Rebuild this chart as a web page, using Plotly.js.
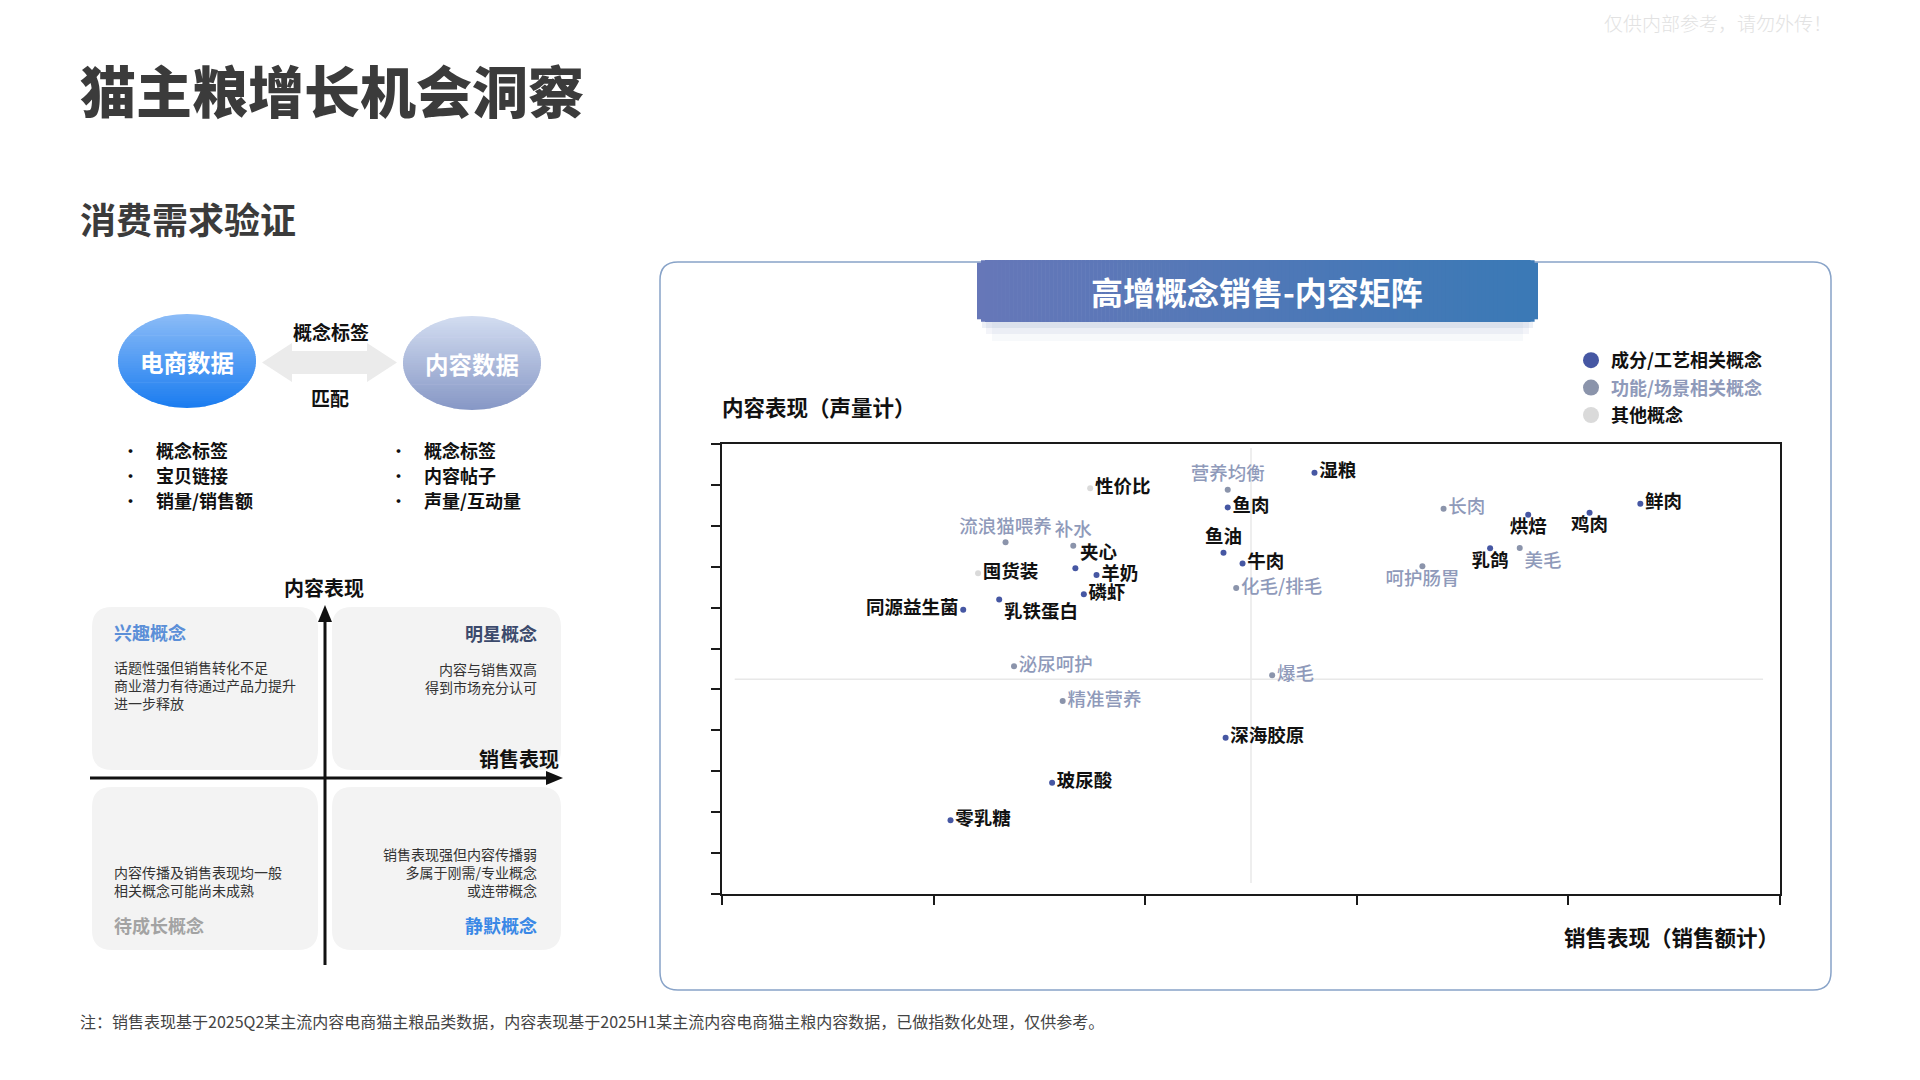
<!DOCTYPE html>
<html>
<head>
<meta charset="utf-8">
<script src="https://cdn.plot.ly/plotly-3.0.1.min.js"></script>
<style>
  html, body { margin: 0; padding: 0; background: #fff; }
  #myDiv { width: 1920px; height: 1080px; }
</style>
</head>
<body>
<div id="myDiv"></div>
<script>
// ---- data (sales index on x, content index on y) ----
var ingrNames   = ['鱼肉', '湿粮', '鱼油', '牛肉', '夹心', '羊奶', '磷虾', '乳铁蛋白', '同源益生菌', '深海胶原', '玻尿酸', '零乳糖', '乳鸽', '烘焙', '鸡肉', '鲜肉'];
var ingrSales   = [2.39, 2.80, 2.37, 2.46, 1.67, 1.77, 1.71, 1.31, 1.14, 2.38, 1.56, 1.08, 3.63, 3.81, 4.10, 4.34];
var ingrContent = [9.45, 10.30, 8.34, 8.08, 7.96, 7.80, 7.33, 7.20, 6.95, 3.82, 2.72, 1.80, 8.45, 9.27, 9.32, 9.54];
var ingrPos     = ['middle right', 'middle right', 'top center', 'middle right', 'top right', 'middle right', 'middle right', 'bottom right', 'middle left', 'middle right', 'middle right', 'middle right', 'bottom center', 'bottom center', 'bottom center', 'middle right'];

var funcNames   = ['营养均衡', '流浪猫喂养', '补水', '化毛/排毛', '泌尿呵护', '爆毛', '精准营养', '长肉', '美毛', '呵护肠胃'];
var funcSales   = [2.39, 1.34, 1.66, 2.43, 1.38, 2.60, 1.61, 3.41, 3.77, 3.31];
var funcContent = [9.88, 8.60, 8.51, 7.48, 5.57, 5.35, 4.72, 9.42, 8.46, 8.01];
var funcPos     = ['top center', 'top center', 'top center', 'middle right', 'middle right', 'middle right', 'middle right', 'middle right', 'bottom right', 'bottom center'];

var otherNames   = ['性价比', '囤货装'];
var otherSales   = [1.74, 1.21];
var otherContent = [9.92, 7.84];
var otherPos     = ['middle right', 'middle right'];

var midSales = 2.5;
var midContent = 5.25;

var legendNames = ['成分/工艺相关概念', '功能/场景相关概念', '其他概念'];

// ---- helpers: page pixels -> paper coords ----
function X(p) { return p / 1920; }
function Y(p) { return 1 - p / 1080; }

function hex(c) { return [parseInt(c.substr(1, 2), 16), parseInt(c.substr(3, 2), 16), parseInt(c.substr(5, 2), 16)]; }
function mix(a, b, t) {
  var A = hex(a), B = hex(b);
  return 'rgb(' + [0, 1, 2].map(function (i) { return Math.round(A[i] + (B[i] - A[i]) * t); }).join(',') + ')';
}

function rrPath(x0, y0, x1, y1, r) {
  return 'M' + X(x0 + r) + ',' + Y(y0) + ' L' + X(x1 - r) + ',' + Y(y0) +
    ' Q' + X(x1) + ',' + Y(y0) + ' ' + X(x1) + ',' + Y(y0 + r) +
    ' L' + X(x1) + ',' + Y(y1 - r) +
    ' Q' + X(x1) + ',' + Y(y1) + ' ' + X(x1 - r) + ',' + Y(y1) +
    ' L' + X(x0 + r) + ',' + Y(y1) +
    ' Q' + X(x0) + ',' + Y(y1) + ' ' + X(x0) + ',' + Y(y1 - r) +
    ' L' + X(x0) + ',' + Y(y0 + r) +
    ' Q' + X(x0) + ',' + Y(y0) + ' ' + X(x0 + r) + ',' + Y(y0) + ' Z';
}

var shapes = [];

// gradient ellipse made of horizontal bands
function gradEllipse(cx, cy, rx, ry, top, bottom) {
  var n = 40, h = 2 * ry / n;
  for (var i = 0; i < n; i++) {
    var ya = cy - ry + i * h, yb = Math.min(ya + h + 0.7, cy + ry);
    var left = [], right = [];
    for (var k = 0; k <= 6; k++) {
      var y = ya + (yb - ya) * k / 6;
      var q = 1 - Math.pow((y - cy) / ry, 2);
      var dx = rx * Math.sqrt(Math.max(q, 0));
      left.push([cx - dx, y]);
      right.unshift([cx + dx, y]);
    }
    var pts = left.concat(right);
    var d = 'M' + pts.map(function (p) { return X(p[0]) + ',' + Y(p[1]); }).join(' L') + ' Z';
    shapes.push({type: 'path', xref: 'paper', yref: 'paper', path: d, fillcolor: mix(top, bottom, (i + 0.5) / n), line: {width: 0}, layer: 'below'});
  }
}

// ---- left diagram ----
gradEllipse(187, 361, 69, 47, '#8cbcf7', '#1a7cf0');
gradEllipse(472, 363, 69, 47, '#d3ddf1', '#8697c5');

var arrowPts = [[262, 362.5], [292, 343], [292, 351], [367, 351], [367, 343], [397, 362.5], [367, 382], [367, 374], [292, 374], [292, 382]];
shapes.push({type: 'path', xref: 'paper', yref: 'paper', layer: 'below',
  path: 'M' + arrowPts.map(function (p) { return X(p[0]) + ',' + Y(p[1]); }).join(' L') + ' Z',
  fillcolor: '#ebebeb', line: {width: 0}});

[[92, 607, 318, 770], [332, 607, 561, 770], [92, 787, 318, 950], [332, 787, 561, 950]].forEach(function (b) {
  shapes.push({type: 'path', xref: 'paper', yref: 'paper', layer: 'below', path: rrPath(b[0], b[1], b[2], b[3], 20), fillcolor: '#f3f3f3', line: {width: 0}});
});
shapes.push({type: 'line', xref: 'paper', yref: 'paper', x0: X(325), x1: X(325), y0: Y(965), y1: Y(618), line: {color: '#111', width: 3}});
shapes.push({type: 'line', xref: 'paper', yref: 'paper', x0: X(90), x1: X(550), y0: Y(778), y1: Y(778), line: {color: '#111', width: 3}});
shapes.push({type: 'path', xref: 'paper', yref: 'paper', fillcolor: '#111', line: {width: 0},
  path: 'M' + X(325) + ',' + Y(605) + ' L' + X(318) + ',' + Y(622) + ' L' + X(332) + ',' + Y(622) + ' Z'});
shapes.push({type: 'path', xref: 'paper', yref: 'paper', fillcolor: '#111', line: {width: 0},
  path: 'M' + X(563) + ',' + Y(778) + ' L' + X(546) + ',' + Y(771) + ' L' + X(546) + ',' + Y(785) + ' Z'});

// ---- chart frame and banner ----
shapes.push({type: 'path', xref: 'paper', yref: 'paper', layer: 'below', path: rrPath(660, 262, 1831, 990, 18), fillcolor: 'rgba(0,0,0,0)', line: {color: '#88a3c8', width: 1.5}});
[[982, 1533, 328, 0.10], [986, 1529, 334, 0.07], [992, 1523, 341, 0.045]].forEach(function (s) {
  shapes.push({type: 'rect', xref: 'paper', yref: 'paper', x0: X(s[0]), x1: X(s[1]), y0: Y(316), y1: Y(s[2]), fillcolor: 'rgba(80,105,170,' + s[3] + ')', line: {width: 0}});
});
(function () {
  var bx0 = 977, bx1 = 1538, by0 = 260, by1 = 322, r = 8, n = 140, w = (bx1 - bx0) / n;
  for (var i = 0; i < n; i++) {
    var xa = bx0 + i * w, xm = xa + w / 2, inset = 0, d = 0;
    if (xm < bx0 + r) d = bx0 + r - xm;
    if (xm > bx1 - r) d = xm - (bx1 - r);
    if (d > 0) inset = r - Math.sqrt(Math.max(r * r - d * d, 0));
    shapes.push({type: 'rect', xref: 'paper', yref: 'paper', x0: X(xa), x1: X(Math.min(xa + w + 0.6, bx1)), y0: Y(by0 + inset), y1: Y(by1 - inset),
      fillcolor: mix('#6677b8', '#3a79b6', i / (n - 1)), line: {width: 0}});
  }
})();

// quadrant reference lines inside the matrix
shapes.push({type: 'line', xref: 'x', yref: 'y', x0: 0.06, x1: 4.92, y0: midContent, y1: midContent, line: {color: '#e8e8e8', width: 1.5}, layer: 'below'});
shapes.push({type: 'line', xref: 'x', yref: 'y', x0: midSales, x1: midSales, y0: 0.27, y1: 10.9, line: {color: '#e8e8e8', width: 1.5}, layer: 'below'});

// ---- text ----
var F = 'Noto Sans CJK SC, sans-serif';
var annotations = [];
function ann(text, x, y, xanchor, size, color, weight, extra) {
  var a = {text: text, xref: 'paper', yref: 'paper', x: X(x), y: Y(y), xanchor: xanchor, yanchor: 'middle', showarrow: false,
    font: {family: F, size: size, color: color, weight: weight || 400}};
  for (var k in extra || {}) a[k] = extra[k];
  annotations.push(a);
}

ann('猫主粮增长机会洞察', 78, 89, 'left', 56, '#3b3b3b', 900);
ann('消费需求验证', 78, 218, 'left', 36, '#3b3b3b', 700);
ann('仅供内部参考，请勿外传！', 1602, 22, 'left', 19, '#e2e2e2', 300);
ann('注：销售表现基于2025Q2某主流内容电商猫主粮品类数据，内容表现基于2025H1某主流内容电商猫主粮内容数据，已做指数化处理，仅供参考。', 78, 1021, 'left', 16, '#444', 400);

ann('电商数据', 187, 362, 'center', 23.5, '#ffffff', 700);
ann('内容数据', 472, 364, 'center', 23.5, '#ffffff', 700);
ann('概念标签', 331, 332, 'center', 19, '#111', 700);
ann('匹配', 330, 397, 'center', 19, '#111', 700);
var leftList = ['概念标签', '宝贝链接', '销量/销售额'];
var rightList = ['概念标签', '内容帖子', '声量/互动量'];
[450, 475, 500].forEach(function (yy, i) {
  ann('•', 130, yy, 'center', 15, '#111', 700);
  ann(leftList[i], 154, yy, 'left', 18, '#111', 700);
  ann('•', 398, yy, 'center', 15, '#111', 700);
  ann(rightList[i], 422, yy, 'left', 18, '#111', 700);
});

ann('内容表现', 324, 587, 'center', 20, '#111', 700);
ann('销售表现', 561, 758, 'right', 20, '#111', 700);
ann('兴趣概念', 112, 632, 'left', 18, '#5b8fd8', 700);
ann('话题性强但销售转化不足<br>商业潜力有待通过产品力提升<br>进一步释放', 112, 685, 'left', 14, '#333', 400, {align: 'left'});
ann('明星概念', 539, 633, 'right', 18, '#3c4a6c', 700);
ann('内容与销售双高<br>得到市场充分认可', 539, 677.5, 'right', 14, '#333', 400, {align: 'right'});
ann('内容传播及销售表现均一般<br>相关概念可能尚未成熟', 112, 880.5, 'left', 14, '#333', 400, {align: 'left'});
ann('待成长概念', 112, 925, 'left', 18, '#a3a3a3', 700);
ann('销售表现强但内容传播弱<br>多属于刚需/专业概念<br>或连带概念', 539, 872, 'right', 14, '#333', 400, {align: 'right'});
ann('静默概念', 539, 925, 'right', 18, '#3a88e6', 700);

ann('高增概念销售-内容矩阵', 1257, 291, 'center', 32, '#ffffff', 700);
ann('内容表现（声量计）', 720, 406, 'left', 21.5, '#111', 700);
ann('销售表现（销售额计）', 1781, 936, 'right', 21.5, '#111', 700);

// ---- traces ----
var blue = '#4657a3', grey = '#8b94ab', light = '#dadada', greyText = '#8f9aba';
var data1 = {
  x: ingrSales, y: ingrContent, text: ingrNames, textposition: ingrPos,
  mode: 'markers+text', type: 'scatter', showlegend: false, cliponaxis: false,
  marker: {color: blue, size: 6},
  textfont: {family: F, size: 18.5, color: '#111', weight: 700}
};
var data2 = {
  x: funcSales, y: funcContent, text: funcNames, textposition: funcPos,
  mode: 'markers+text', type: 'scatter', showlegend: false, cliponaxis: false,
  marker: {color: grey, size: 6},
  textfont: {family: F, size: 18.5, color: greyText, weight: 500}
};
var data3 = {
  x: otherSales, y: otherContent, text: otherNames, textposition: otherPos,
  mode: 'markers+text', type: 'scatter', showlegend: false, cliponaxis: false,
  marker: {color: light, size: 6},
  textfont: {family: F, size: 18.5, color: '#111', weight: 700}
};
var legendColors = [blue, grey, light];
var legendTextColors = ['#111', greyText, '#111'];
var legendTraces = legendNames.map(function (n, i) {
  return {x: [null], y: [null], mode: 'markers', type: 'scatter', legendgroup: 'g' + i,
    name: '<span style="color:' + legendTextColors[i] + '">' + n + '</span>',
    marker: {color: legendColors[i], size: 18}};
});

var layout = {
  width: 1920, height: 1080,
  margin: {l: 0, r: 0, t: 0, b: 0},
  paper_bgcolor: '#ffffff', plot_bgcolor: 'rgba(0,0,0,0)',
  font: {family: F},
  showlegend: true,
  legend: {x: X(1571), y: Y(342), xanchor: 'left', yanchor: 'top', bgcolor: 'rgba(0,0,0,0)',
    itemsizing: 'trace', font: {family: F, size: 18, color: '#111', weight: 700}, tracegroupgap: 1},
  xaxis: {domain: [X(722), X(1780)], range: [0, 5], tick0: 0, dtick: 1, showticklabels: false,
    showgrid: false, zeroline: false, showline: true, mirror: true, linecolor: '#1a1a1a', linewidth: 2,
    ticks: 'outside', ticklen: 9, tickwidth: 2, tickcolor: '#1a1a1a', fixedrange: true},
  yaxis: {domain: [Y(894), Y(444)], range: [0, 11], tick0: 0, dtick: 1, showticklabels: false,
    showgrid: false, zeroline: false, showline: true, mirror: true, linecolor: '#1a1a1a', linewidth: 2,
    ticks: 'outside', ticklen: 9, tickwidth: 2, tickcolor: '#1a1a1a', fixedrange: true},
  shapes: shapes,
  annotations: annotations
};

Plotly.newPlot('myDiv', [data1, data2, data3].concat(legendTraces), layout, {displayModeBar: false, staticPlot: true});
</script>
</body>
</html>
